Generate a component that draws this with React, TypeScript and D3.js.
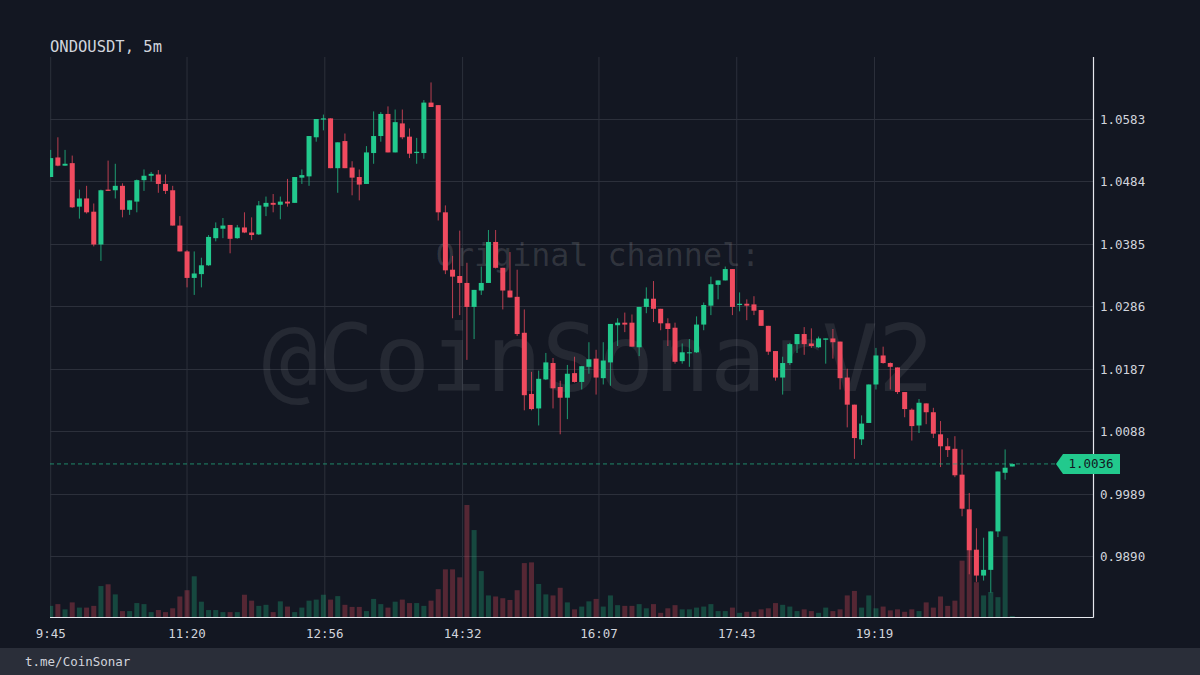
import React from "react";
import * as d3 from "d3";

const openP = [1.0491,1.0522,1.0509,1.0513,1.0444,1.0457,1.0436,1.0384,1.0471,1.0470,1.0477,1.0439,1.0452,1.0486,1.0493,1.0495,1.0480,1.0470,1.0414,1.0373,1.0331,1.0337,1.0351,1.0394,1.0409,1.0415,1.0394,1.0411,1.0403,1.0400,1.0444,1.0450,1.0447,1.0452,1.0450,1.0490,1.0492,1.0554,1.0582,1.0584,1.0505,1.0548,1.0506,1.0491,1.0480,1.0529,1.0556,1.0591,1.0530,1.0576,1.0555,1.0529,1.0529,1.0609,1.0605,1.0435,1.0344,1.0334,1.0323,1.0285,1.0311,1.0323,1.0388,1.0347,1.0311,1.0301,1.0244,1.0147,1.0124,1.0170,1.0196,1.0158,1.0141,1.0180,1.0166,1.0190,1.0203,1.0172,1.0197,1.0256,1.0260,1.0260,1.0221,1.0285,1.0298,1.0282,1.0259,1.0252,1.0199,1.0212,1.0213,1.0257,1.0287,1.0320,1.0327,1.0345,1.0288,1.0290,1.0289,1.0280,1.0255,1.0215,1.0173,1.0196,1.0226,1.0242,1.0227,1.0221,1.0233,1.0235,1.0230,1.0173,1.0130,1.0075,1.0101,1.0162,1.0208,1.0196,1.0189,1.0150,1.0122,1.0097,1.0132,1.0118,1.0083,1.0064,1.0060,1.0019,0.9964,0.9900,0.9859,0.9868,0.9929,1.0022,1.0032];
const highP = [1.0534,1.0554,1.0534,1.0525,1.0471,1.0477,1.0449,1.0471,1.0517,1.0512,1.0481,1.0454,1.0487,1.0503,1.0499,1.0502,1.0495,1.0477,1.0429,1.0375,1.0373,1.0363,1.0399,1.0419,1.0426,1.0415,1.0415,1.0435,1.0427,1.0453,1.0460,1.0464,1.0460,1.0488,1.0491,1.0503,1.0556,1.0583,1.0590,1.0584,1.0546,1.0560,1.0516,1.0503,1.0540,1.0595,1.0594,1.0603,1.0598,1.0598,1.0568,1.0553,1.0613,1.0641,1.0605,1.0446,1.0366,1.0406,1.0355,1.0312,1.0349,1.0407,1.0407,1.0347,1.0372,1.0344,1.0281,1.0182,1.0184,1.0212,1.0204,1.0168,1.0193,1.0206,1.0191,1.0229,1.0217,1.0229,1.0258,1.0267,1.0276,1.0273,1.0285,1.0316,1.0326,1.0282,1.0267,1.0260,1.0227,1.0234,1.0270,1.0292,1.0333,1.0327,1.0349,1.0345,1.0308,1.0297,1.0302,1.0280,1.0255,1.0215,1.0206,1.0228,1.0242,1.0253,1.0251,1.0238,1.0235,1.0250,1.0230,1.0187,1.0130,1.0113,1.0162,1.0220,1.0222,1.0197,1.0189,1.0150,1.0124,1.0139,1.0132,1.0125,1.0104,1.0077,1.0080,1.0059,0.9990,0.9934,0.9919,0.9929,1.0024,1.0059,1.0036];
const lowP = [1.0491,1.0508,1.0509,1.0442,1.0425,1.0433,1.0381,1.0358,1.0469,1.0457,1.0427,1.0431,1.0435,1.0469,1.0484,1.0466,1.0464,1.0414,1.0373,1.0316,1.0304,1.0316,1.0350,1.0389,1.0394,1.0370,1.0393,1.0402,1.0391,1.0399,1.0429,1.0435,1.0424,1.0444,1.0450,1.0480,1.0477,1.0547,1.0565,1.0505,1.0466,1.0505,1.0462,1.0454,1.0480,1.0512,1.0547,1.0530,1.0530,1.0551,1.0521,1.0512,1.0520,1.0602,1.0422,1.0337,1.0267,1.0272,1.0201,1.0234,1.0304,1.0323,1.0346,1.0281,1.0300,1.0239,1.0121,1.0121,1.0097,1.0169,1.0124,1.0083,1.0107,1.0165,1.0154,1.0179,1.0146,1.0162,1.0160,1.0223,1.0245,1.0222,1.0207,1.0275,1.0261,1.0248,1.0223,1.0195,1.0195,1.0190,1.0212,1.0248,1.0272,1.0297,1.0327,1.0272,1.0278,1.0264,1.0272,1.0255,1.0209,1.0168,1.0146,1.0193,1.0212,1.0209,1.0220,1.0220,1.0195,1.0203,1.0154,1.0094,1.0044,1.0066,1.0101,1.0154,1.0195,1.0154,1.0147,1.0110,1.0073,1.0085,1.0099,1.0077,1.0031,1.0047,1.0015,0.9953,0.9861,0.9849,0.9851,0.9832,0.9920,1.0011,1.0032];
const closeP = [1.0521,1.0509,1.0512,1.0443,1.0457,1.0435,1.0384,1.0470,1.0469,1.0477,1.0439,1.0454,1.0486,1.0493,1.0496,1.0480,1.0469,1.0414,1.0373,1.0331,1.0338,1.0351,1.0396,1.0410,1.0414,1.0393,1.0411,1.0403,1.0399,1.0446,1.0450,1.0447,1.0452,1.0449,1.0491,1.0494,1.0556,1.0583,1.0584,1.0505,1.0546,1.0505,1.0490,1.0479,1.0530,1.0556,1.0591,1.0530,1.0578,1.0554,1.0528,1.0531,1.0609,1.0602,1.0435,1.0343,1.0333,1.0323,1.0285,1.0312,1.0323,1.0388,1.0347,1.0311,1.0300,1.0242,1.0145,1.0123,1.0171,1.0197,1.0156,1.0141,1.0179,1.0166,1.0191,1.0202,1.0173,1.0200,1.0258,1.0260,1.0257,1.0222,1.0285,1.0298,1.0282,1.0259,1.0250,1.0198,1.0213,1.0213,1.0257,1.0288,1.0321,1.0327,1.0345,1.0285,1.0290,1.0287,1.0279,1.0255,1.0214,1.0173,1.0196,1.0226,1.0242,1.0226,1.0223,1.0235,1.0235,1.0229,1.0172,1.0130,1.0077,1.0100,1.0162,1.0208,1.0196,1.0190,1.0150,1.0123,1.0096,1.0133,1.0118,1.0084,1.0064,1.0058,1.0018,0.9965,0.9899,0.9859,0.9868,0.9929,1.0024,1.0030,1.0036];
const volumes = [32,37,22,42,27,27,32,89,94,65,17,17,40,37,14,20,14,25,59,77,117,44,20,20,14,14,14,64,47,32,35,14,45,30,14,27,47,50,64,50,60,35,29,29,17,52,37,27,44,50,40,40,32,47,80,137,137,114,322,250,132,62,59,54,49,77,155,157,95,65,62,84,42,22,30,45,52,30,62,34,32,32,37,25,37,12,25,34,22,22,27,30,37,17,17,27,12,15,15,22,25,40,35,30,17,22,17,12,27,17,22,62,75,27,62,25,30,19,22,15,22,17,42,27,59,32,47,162,192,100,62,72,57,232,3];

const priceTicks = [0.9890, 0.9989, 1.0088, 1.0187, 1.0286, 1.0385, 1.0484, 1.0583];
// minutes since midnight
const startMinute = 585; // 9:45
const timeTicks = [585, 680, 776, 872, 967, 1063, 1159];
const lastPrice = 1.0036;
const title = "ONDOUSDT, 5m";

const BG = "#131722";
const UP = "#22c98d";
const DOWN = "#f04b5f";
const GRID = "#2c303b";
const TEXT = "#d1d4dc";
const MONO = "'DejaVu Sans Mono', monospace";

export default function App() {
  const n = closeP.length;
  const plotL = 50, plotR = 1093.5, plotT = 57, plotB = 617.5;
  const x = d3.scaleLinear().domain([startMinute, startMinute + 5 * (n - 1)]).range([50.7, 1012.3]);
  const y = d3.scaleLinear().domain([0.9890, 1.0583]).range([556, 119]);
  const vy = d3.scaleLinear().domain([0, 322]).range([617, 505]);
  const fmtTime = (m: number) => `${Math.floor(m / 60)}:${d3.format("02d")(m % 60)}`;
  const fmtP = d3.format(".4f");
  const bw = 5;
  const ly = y(lastPrice);

  return (
    <svg width={1200} height={675} style={{ position: "absolute", left: 0, top: 0, display: "block" }} fontFamily={MONO}>
      <defs>
        <clipPath id="plot">
          <rect x={plotL} y={plotT} width={plotR - plotL} height={plotB - plotT} />
        </clipPath>
      </defs>
      <rect x={0} y={0} width={1200} height={675} fill={BG} />
      {/* grid */}
      {timeTicks.map((t) => (
        <line key={"vg" + t} x1={x(t)} x2={x(t)} y1={plotT} y2={plotB} stroke={GRID} strokeWidth={1} />
      ))}
      {priceTicks.map((p) => (
        <line key={"hg" + p} x1={plotL} x2={plotR} y1={Math.round(y(p)) + 0.5} y2={Math.round(y(p)) + 0.5} stroke={GRID} strokeWidth={1} />
      ))}
      {/* watermark */}
      <text x={598} y={266} textAnchor="middle" fontSize={31.7} fill="rgba(255,255,255,0.13)">Original channel:</text>
      <text x={598} y={391} textAnchor="middle" fontSize={93} fill="rgba(255,255,255,0.08)">@CoinSonarV2</text>
      <g clipPath="url(#plot)">
        {/* volume */}
        {volumes.map((v, i) => {
          const up = closeP[i] >= openP[i];
          const cx = x(startMinute + 5 * i);
          return (
            <rect key={"v" + i} x={cx - bw / 2} y={vy(v)} width={bw} height={617 - vy(v)}
              fill={up ? "rgba(34,201,141,0.28)" : "rgba(240,75,95,0.3)"} />
          );
        })}
        {/* candles */}
        {closeP.map((c, i) => {
          const o = openP[i];
          const up = c >= o;
          const col = up ? UP : DOWN;
          const cx = x(startMinute + 5 * i);
          const top = y(Math.max(o, c));
          const bot = y(Math.min(o, c));
          return (
            <g key={"c" + i}>
              <line x1={cx} x2={cx} y1={y(highP[i])} y2={y(lowP[i])} stroke={col} strokeWidth={1} opacity={0.75} />
              <rect x={cx - bw / 2} y={top} width={bw} height={Math.max(1, bot - top)} fill={col} />
            </g>
          );
        })}
        <line x1={plotL} x2={1056} y1={ly} y2={ly} stroke="#22a57c" strokeWidth={1} strokeDasharray="4 3" opacity={0.8} />
      </g>
      {/* borders */}
      <line x1={plotL} x2={plotR} y1={plotB} y2={plotB} stroke="#e6e8ee" strokeWidth={1.2} />
      <line x1={plotR} x2={plotR} y1={plotT} y2={plotB} stroke="#e6e8ee" strokeWidth={1.2} />
      {/* price axis */}
      {priceTicks.map((p) => (
        <text key={"pt" + p} x={1100} y={y(p) + 5} fontSize={12.5} fill={TEXT}>{fmtP(p)}</text>
      ))}
      {/* last price label */}
      <polygon points={`1056,${ly} 1063,${ly - 10} 1120,${ly - 10} 1120,${ly + 10} 1063,${ly + 10}`} fill={UP} />
      <text x={1091} y={ly + 4.5} textAnchor="middle" fontSize={12.5} fill={BG}>{fmtP(lastPrice)}</text>
      {/* time axis */}
      {timeTicks.map((t) => (
        <text key={"tt" + t} x={x(t)} y={638} textAnchor="middle" fontSize={12.5} fill={TEXT}>{fmtTime(t)}</text>
      ))}
      {/* title */}
      <text x={50} y={52} fontSize={15.5} fill={TEXT}>{title}</text>
      {/* footer */}
      <rect x={0} y={648} width={1200} height={27} fill="#2a2e39" />
      <text x={25} y={666} fontSize={12.5} fill={TEXT}>t.me/CoinSonar</text>
    </svg>
  );
}
